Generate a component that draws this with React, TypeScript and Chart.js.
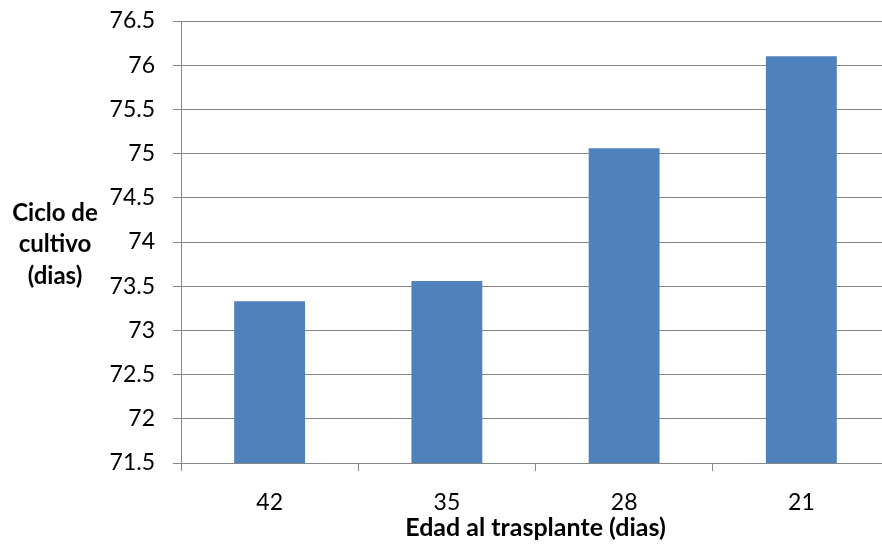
import React, { useEffect, useRef } from "react";
import { Chart, registerables } from "chart.js";

Chart.register(...registerables);

const categories = ["42", "35", "28", "21"];
const cicloValues = [73.33, 73.56, 75.06, 76.1];
const yTickValues = [71.5, 72, 72.5, 73, 73.5, 74, 74.5, 75, 75.5, 76, 76.5];
const yTitleLines = ["Ciclo de", "cultivo", "(dias)"];
const xTitle = "Edad al trasplante (dias)";

const AXIS_GRAY = "#868686";
const BAR_BLUE = "#4F81BD";

const yTitlePlugin = {
  id: "yTitleHorizontal",
  afterDraw(chart: any) {
    const ctx = chart.ctx;
    ctx.save();
    ctx.font = "bold 24px Lato";
    ctx.fillStyle = "#000";
    ctx.textAlign = "center";
    ctx.textBaseline = "middle";
    const cx = 55;
    const startY = 213;
    const lh = 31.5;
    yTitleLines.forEach((t, i) => ctx.fillText(t, cx, startY + i * lh));
    ctx.restore();
  },
};

export default function App() {
  const ref = useRef<HTMLCanvasElement>(null);
  useEffect(() => {
    if (!ref.current) return;
    const chart = new Chart(ref.current, {
      type: "bar",
      data: {
        labels: categories,
        datasets: [
          {
            data: cicloValues,
            backgroundColor: BAR_BLUE,
            borderWidth: 0,
            categoryPercentage: 1,
            barPercentage: 0.4,
          },
        ],
      },
      options: {
        responsive: false,
        animation: false,
        layout: { padding: { top: 21, right: 10, bottom: 0, left: 0 } },
        plugins: { legend: { display: false }, tooltip: { enabled: false } },
        scales: {
          x: {
            grid: {
              drawOnChartArea: false,
              color: AXIS_GRAY,
              tickLength: 8,
              offset: true,
            },
            border: { color: AXIS_GRAY, width: 1 },
            ticks: {
              color: "#000",
              font: { family: "Lato", size: 23 },
              padding: 18,
              maxRotation: 0,
            },
            title: {
              display: true,
              text: xTitle,
              color: "#000",
              font: { family: "Lato", size: 25, weight: "bold" },
              padding: { top: 0, bottom: 2 },
            },
            afterFit: (scale: any) => {
              scale.height = 82;
              scale.paddingLeft = 0;
              scale.paddingRight = 0;
            },
          },
          y: {
            min: 71.5,
            max: 76.5,
            afterBuildTicks: (scale: any) => {
              scale.ticks = yTickValues.map((v) => ({ value: v }));
            },
            grid: { color: AXIS_GRAY, tickLength: 8 },
            border: { color: AXIS_GRAY, width: 1 },
            ticks: {
              color: "#000",
              font: { family: "Lato", size: 23 },
              padding: 18,
              callback: (v: any) => String(v),
            },
            afterFit: (scale: any) => {
              scale.width = 181;
              scale.paddingTop = 0;
              scale.paddingBottom = 0;
            },
          },
        },
      },
      plugins: [yTitlePlugin],
    });
    return () => chart.destroy();
  }, []);
  return (
    <div
      style={{
        position: "fixed",
        left: 0,
        top: 0,
        width: 882,
        height: 545,
        overflow: "hidden",
        background: "#fff",
      }}
    >
      <canvas ref={ref} width={900} height={545} style={{ display: "block" }} />
    </div>
  );
}
